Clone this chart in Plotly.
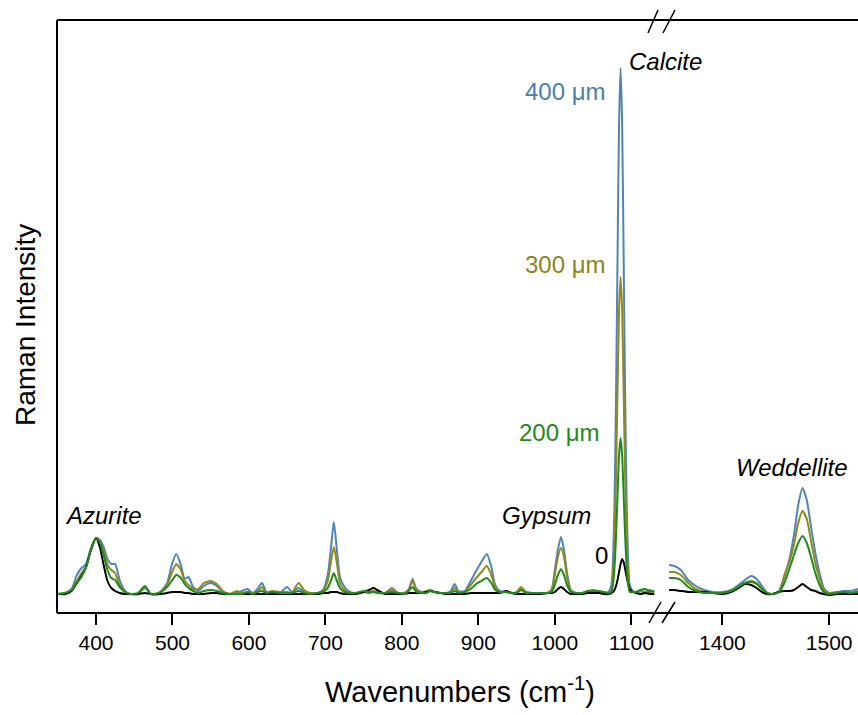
import plotly.graph_objects as go

# ---------------- data ----------------
WN_LEFT = [350, 360, 368, 375, 381, 387, 393, 400, 405, 410,
           415, 420, 425, 431, 438, 445, 455, 464, 472, 482,
           493, 499, 505, 511, 516, 521, 527, 534, 541, 550,
           558, 566, 575, 584, 591, 598, 605, 611, 617, 623,
           630, 640, 650, 656, 665, 672, 680, 690, 697, 703,
           707, 711, 715, 719, 725, 732, 740, 750, 757, 763,
           770, 778, 787, 795, 803, 809, 814, 819, 826, 832,
           837, 843, 850, 858, 864, 869, 874, 882, 890, 897,
           904, 911, 917, 922, 928, 936, 944, 950, 956, 962,
           970, 980, 990, 996, 1000, 1004, 1008, 1012, 1016, 1021,
           1028, 1036, 1043, 1051, 1058, 1064, 1070, 1074, 1076, 1078,
           1080, 1082, 1084, 1086, 1088, 1090, 1092, 1094, 1096, 1098,
           1102, 1106, 1112, 1118, 1124, 1130]

I400_LEFT = [1, 2, 6, 20, 27, 31, 46, 57, 55, 48,
             36, 31, 31, 15, 4, 1, 1, 7, 1, 1,
             12, 30, 41, 30, 16, 18, 8, 4, 9, 12,
             9, 3, 1, 2, 4, 6, 2, 6, 12, 3,
             3, 2, 8, 3, 7, 3, 2, 2, 5, 20,
             45, 73, 45, 18, 8, 3, 2, 3, 2, 3,
             2, 2, 5, 2, 2, 6, 16, 6, 3, 3,
             5, 3, 2, 2, 4, 11, 4, 4, 14, 24,
             33, 41, 28, 10, 4, 3, 2, 2, 6, 3,
             2, 2, 2, 6, 25, 45, 58, 45, 22, 5,
             2, 2, 4, 5, 3, 2, 3, 10, 33, 90,
             195, 337, 472, 527, 472, 337, 195, 90, 33, 10,
             4, 3, 4, 3, 5, 3]

I300_LEFT = [1, 2, 5, 14, 22, 28, 45, 57, 54, 44,
             30, 25, 22, 10, 3, 1, 1, 8, 1, 2,
             10, 22, 31, 25, 14, 10, 6, 6, 12, 14,
             11, 4, 1, 4, 2, 3, 2, 3, 8, 2,
             4, 3, 3, 2, 12, 5, 2, 2, 4, 14,
             32, 48, 32, 12, 5, 2, 2, 3, 3, 4,
             2, 2, 7, 2, 2, 5, 14, 5, 2, 4,
             5, 3, 2, 2, 3, 7, 3, 3, 10, 17,
             23, 29, 20, 8, 3, 3, 2, 3, 8, 3,
             2, 2, 2, 5, 20, 38, 47, 38, 18, 4,
             2, 2, 3, 4, 3, 2, 2, 6, 20, 54,
             118, 204, 285, 318, 285, 204, 118, 54, 20, 6,
             3, 3, 4, 3, 3, 3]

I200_LEFT = [1, 2, 5, 12, 18, 28, 44, 57, 53, 40,
             25, 17, 15, 8, 3, 1, 2, 9, 1, 2,
             8, 14, 20, 17, 11, 7, 4, 2, 4, 5,
             4, 2, 1, 1, 1, 3, 1, 3, 4, 2,
             3, 2, 2, 2, 4, 2, 1, 2, 3, 7,
             14, 22, 14, 7, 3, 2, 2, 4, 3, 3,
             2, 2, 3, 2, 1, 4, 8, 3, 2, 2,
             4, 3, 2, 2, 2, 4, 2, 3, 6, 11,
             14, 17, 12, 5, 3, 3, 2, 2, 5, 2,
             2, 2, 2, 3, 10, 20, 26, 20, 10, 3,
             2, 2, 4, 4, 4, 3, 2, 3, 10, 27,
             58, 100, 140, 157, 140, 100, 58, 27, 10, 3,
             3, 3, 5, 6, 4, 4]

I0_LEFT = [1, 1, 4, 12, 19, 28, 44, 57, 48, 30,
           14, 7, 4, 2, 1, 1, 1, 2, 1, 1,
           2, 3, 3, 3, 2, 2, 1, 1, 1, 2,
           2, 1, 1, 1, 1, 1, 1, 1, 1, 1,
           1, 1, 1, 1, 1, 1, 1, 1, 2, 2,
           3, 3, 3, 2, 1, 1, 1, 3, 5, 7,
           4, 1, 1, 1, 1, 2, 2, 2, 2, 3,
           4, 3, 2, 1, 1, 1, 1, 1, 2, 2,
           2, 2, 2, 2, 2, 4, 2, 1, 1, 1,
           1, 1, 2, 2, 3, 6, 8, 6, 3, 1,
           1, 1, 2, 2, 2, 1, 1, 2, 3, 5,
           9, 15, 23, 31, 36, 33, 26, 18, 11, 6,
           3, 2, 1, 2, 1, 1]

WN_RIGHT = [1350, 1355, 1361, 1368, 1375, 1383, 1391, 1400, 1408, 1415,
            1421, 1427, 1432, 1437, 1442, 1447, 1453, 1458, 1463, 1467,
            1471, 1475, 1479, 1483, 1487, 1491, 1495, 1500, 1507, 1513,
            1520, 1527]
I400_RIGHT = [30, 29, 25, 15, 9, 5, 3, 3, 5, 10,
              15, 19, 16, 9, 2, 1, 4, 18, 37, 60,
              90, 107, 95, 68, 42, 22, 7, 2, 3, 4,
              4, 6]
I300_RIGHT = [23, 23, 20, 12, 6, 3, 2, 2, 4, 8,
              12, 14, 12, 7, 2, 1, 3, 20, 34, 50,
              72, 84, 76, 54, 32, 16, 5, 2, 2, 3,
              2, 4]
I200_RIGHT = [17, 17, 15, 8, 4, 2, 2, 2, 4, 8,
              12, 13, 11, 6, 2, 1, 3, 12, 27, 40,
              52, 59, 52, 38, 22, 10, 3, 1, 2, 3,
              2, 3]
I0_RIGHT = [5, 5, 4, 3, 3, 3, 2, 1, 3, 7,
            11, 10, 7, 3, 1, 1, 3, 4, 4, 5,
            8, 11, 8, 5, 4, 2, 1, 0, 1, 1,
            1, 1]

TICKS_LEFT = [400, 500, 600, 700, 800, 900, 1000, 1100]
TICKS_RIGHT = [1400, 1500]

SERIES = [
    ("400 μm", I400_LEFT, I400_RIGHT, "#4f85b5"),
    ("300 μm", I300_LEFT, I300_RIGHT, "#8f8a1c"),
    ("0", I0_LEFT, I0_RIGHT, "#000000"),
    ("200 μm", I200_LEFT, I200_RIGHT, "#1f8a1f"),
]

# ---------------- layout geometry ----------------
W, H = 858, 715
ML, MR, MT, MB = 57, 0, 20, 102
PW, PH = W - ML - MR, H - MT - MB


def px(x):
    return (x - ML) / PW


def py(y):
    return (H - MB - y) / PH


fig = go.Figure()
for name, left, right, color in SERIES:
    fig.add_trace(go.Scatter(x=WN_LEFT, y=left, mode="lines", name=name,
                             line=dict(color=color, width=2, shape="spline", smoothing=0.6),
                             xaxis="x", yaxis="y", showlegend=False, hoverinfo="skip"))
    fig.add_trace(go.Scatter(x=WN_RIGHT, y=right, mode="lines", name=name,
                             line=dict(color=color, width=2, shape="spline", smoothing=0.6),
                             xaxis="x2", yaxis="y", showlegend=False, hoverinfo="skip"))

tickfont = dict(family="Liberation Sans, Arial, sans-serif", size=21, color="black")
common_x = dict(showgrid=False, zeroline=False, showline=False, ticks="outside",
                ticklen=11, tickwidth=2, tickcolor="black", tickfont=tickfont)

fig.update_layout(
    width=W, height=H,
    margin=dict(l=ML, r=MR, t=MT, b=MB, pad=0),
    paper_bgcolor="white", plot_bgcolor="white",
    xaxis=dict(domain=[0, px(655)], range=[349, 1131], tickmode="array",
               tickvals=TICKS_LEFT, ticktext=[str(t) for t in TICKS_LEFT], **common_x),
    xaxis2=dict(domain=[px(668), 1], range=[1349, 1527], anchor="y", tickmode="array",
                tickvals=TICKS_RIGHT, ticktext=[str(t) for t in TICKS_RIGHT], **common_x),
    yaxis=dict(range=[-18, 575], showgrid=False, zeroline=False, showline=False,
               showticklabels=False, ticks=""),
)

# frame lines
line = dict(color="black", width=2)
fig.add_shape(type="line", xref="paper", yref="paper", x0=0, x1=0, y0=0, y1=1, line=line)
fig.add_shape(type="line", xref="paper", yref="paper", x0=0, x1=1, y0=0, y1=0, line=line)
fig.add_shape(type="line", xref="paper", yref="paper", x0=0, x1=1, y0=1, y1=1, line=line)

# axis break marks
for (xa, ya, xb, yb) in [(649, 623, 661, 602), (662, 623, 675, 602),
                         (648, 33, 658, 10), (663, 33, 675, 10)]:
    fig.add_shape(type="line", xref="paper", yref="paper",
                  x0=px(xa), y0=py(ya), x1=px(xb), y1=py(yb),
                  line=dict(color="black", width=1.5))

ann_font = "Liberation Sans, Arial, sans-serif"
labels = [
    ("400 μm", 565, 91, "#4a7eab"),
    ("300 μm", 565, 264, "#8a8420"),
    ("200 μm", 559, 432, "#1e8a1e"),
    ("0", 601, 555, "#000000"),
    ("<i>Calcite</i>", 665, 61, "#000000"),
    ("<i>Gypsum</i>", 546, 515, "#000000"),
    ("<i>Azurite</i>", 103, 515, "#000000"),
    ("<i>Weddellite</i>", 792, 467, "#000000"),
]
for text, x, y, color in labels:
    fig.add_annotation(text=text, xref="paper", yref="paper", x=px(x), y=py(y),
                       xanchor="center", yanchor="middle", showarrow=False,
                       font=dict(family=ann_font, size=24, color=color))

fig.add_annotation(text="Raman Intensity", xref="paper", yref="paper",
                   x=px(25), y=py(325), xanchor="center", yanchor="middle",
                   textangle=-90, showarrow=False,
                   font=dict(family=ann_font, size=28, color="black"))
fig.add_annotation(text="Wavenumbers (cm<sup>-1</sup>)", xref="paper", yref="paper",
                   x=px(460), y=py(690), xanchor="center", yanchor="middle",
                   showarrow=False,
                   font=dict(family=ann_font, size=29, color="black"))

fig.write_html("out.html")
